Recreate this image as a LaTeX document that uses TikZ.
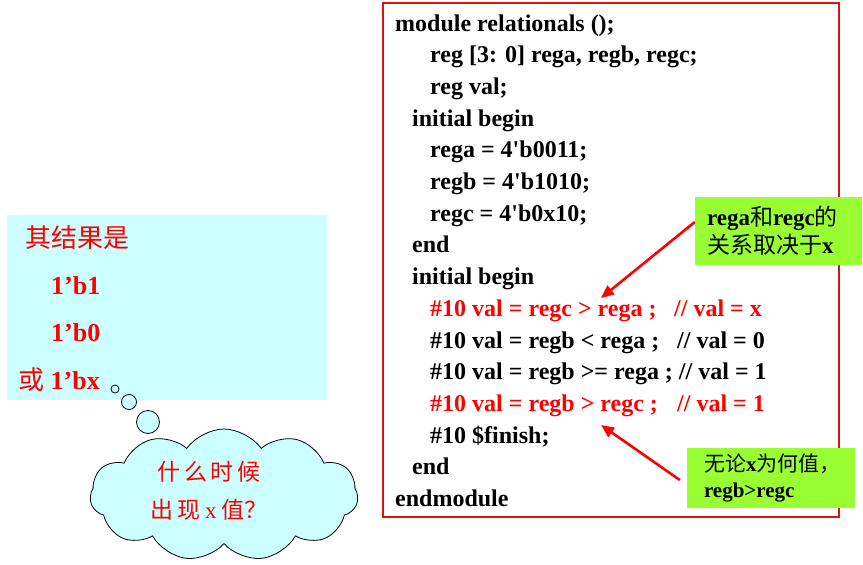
\documentclass[tikz,border=0pt]{standalone}
\usepackage{fontspec}
\setmainfont{Liberation Serif}
\newfontfamily\cjk{Noto Sans CJK SC}
\usetikzlibrary{shapes.symbols,arrows.meta}
\definecolor{notegreen}{HTML}{99FF33}
\definecolor{bubblecyan}{HTML}{CCFFFF}
\definecolor{framered}{HTML}{DD1111}

\begin{document}
\begin{tikzpicture}[x=1pt,y=-1pt,
    code/.style={anchor=base west,inner sep=0pt,font=\fontsize{24}{28}\selectfont\bfseries},
    hot/.style={code,text=red},
    result/.style={anchor=base west,inner sep=0pt,text=red,font=\fontsize{26}{30}\selectfont\bfseries},
    note/.style={fill=notegreen,inner sep=0pt,align=left},
    bubble/.style={draw=black,fill=bubblecyan,line width=0.8pt},
    pointer/.style={red,line width=2.6pt,-{Triangle[length=13pt,width=11pt]}}]
                \useasboundingbox (0,0) rectangle (863,565);

                % code listing
                \node[draw=framered,line width=1.4pt,minimum width=456,minimum height=514,inner sep=0pt] (codebox) at (611,260) {};
                \node[code] (l1) at (395,31) {module relationals ();};
                \node[code] (l2) at (430,62.7) {reg [3: 0] rega, regb, regc;};
                \node[code] (l3) at (430,94.4) {reg val;};
                \node[code] (l4) at (412,126.1) {initial begin};
                \node[code] (l5) at (430,157.8) {rega = 4\textquotesingle b0011;};
                \node[code] (l6) at (430,189.5) {regb = 4\textquotesingle b1010;};
                \node[code] (l7) at (430,221.2) {regc = 4\textquotesingle b0x10;};
                \node[code] (l8) at (412,252.9) {end};
                \node[code] (l9) at (412,284.6) {initial begin};
                \node[hot] (l10) at (430,316.3) {\#10 val = regc > rega ;};
                \node[hot] (c10) at (674,316.3) {// val = x};
                \node[code] (l11) at (430,348) {\#10 val = regb < rega ;};
                \node[code] (c11) at (677,348) {// val = 0};
                \node[code] (l12) at (430,379.7) {\#10 val = regb >= rega ; // val = 1};
                \node[hot] (l13) at (430,411.4) {\#10 val = regb > regc ;};
                \node[hot] (c13) at (677,411.4) {// val = 1};
                \node[code] (l14) at (430,443.1) {\#10 \$finish;};
                \node[code] (l15) at (412,474.8) {end};
                \node[code] (l16) at (395,506.5) {endmodule};

                % result box
                \node[fill=bubblecyan,minimum width=320,minimum height=185,inner sep=0pt] (res) at (167,307.5) {};
                \node[result] (r1) at (25,247) {\cjk\mdseries 其结果是};
                \node[result] (r2) at (51,294) {1’b1};
                \node[result] (r3) at (51,341) {1’b0};
                \node[result] (r4) at (18,389) {{\cjk\mdseries 或} 1’bx};

                % thought cloud
                \draw[bubble] (115,389) circle (4);
                \draw[bubble] (129,402) circle (7.5);
                \draw[bubble] (148,422) circle (11.5);
                \node[bubble,cloud,cloud puffs=11,cloud puff arc=110,aspect=2,minimum width=268,minimum height=132] (ask) at (224,495) {};
                \node[text=red,align=center,inner sep=0pt,font=\cjk\fontsize{23}{38}\selectfont] (asktext) at (209,491)
                      {什\,么\,时\,候\\出\,现 {\rmfamily x} 值？};

                % notes
                \node[note,minimum width=167,minimum height=68,text width=143,font=\fontsize{23}{28}\selectfont\bfseries] (note1) at (778.5,231)
                      {rega{\cjk\mdseries 和}regc{\cjk\mdseries 的}\\{\cjk\mdseries 关系取决于}x};
                \node[note,minimum width=168,minimum height=60,text width=134,font=\fontsize{21}{26}\selectfont\bfseries] (note2) at (771,478)
                      {{\cjk\mdseries 无论}x{\cjk\mdseries 为何值，}\\regb>regc};

                \coordinate (tip1) at (601,298);
                \coordinate (tip2) at (601,425);
                \draw[pointer] ([yshift=9pt]note1.west) -- (tip1);
                \draw[pointer] ([xshift=-7pt,yshift=-2pt]note2.west) -- (tip2);
\end{tikzpicture}
\end{document}
